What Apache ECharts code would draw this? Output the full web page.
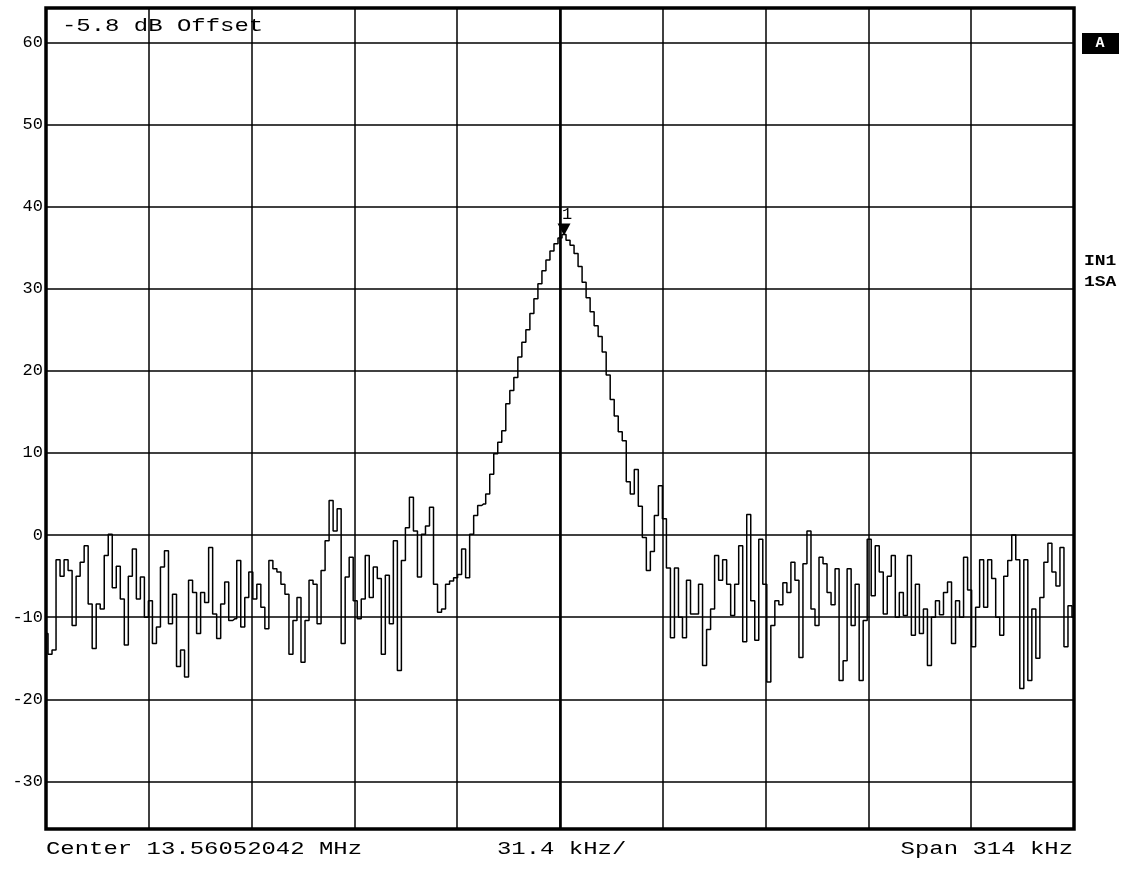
<!DOCTYPE html>
<html>
<head>
<meta charset="utf-8">
<title>Spectrum 13.56 MHz</title>
<script src="https://cdn.jsdelivr.net/npm/echarts@6/dist/echarts.min.js"></script>
<style>
html, body { margin: 0; padding: 0; background: #fff; }
#chart { width: 1127px; height: 869px; }
</style>
</head>
<body>
<div id="chart"></div>
<script>
// sweep settings (kHz relative to center)
const START_KHZ = -157;
const SPAN_KHZ = 314;
const DIV_KHZ = 31.4;
const REF_MIN = -35.8;
const REF_MAX = 64.2;

// trace, dB, evenly spaced across the span
const levels = [
  -12, -14.5, -14, -3, -5, -3, -4.3, -11, -5, -3.3, -1.3, -8.4, -13.8, -8.4, -9, -2.5,
  0.1, -6.4, -3.8, -7.8, -13.4, -5, -1.7, -7.8, -5.1, -10, -8, -13.2, -11.2, -3.9, -1.9, -10.8,
  -7.2, -16, -14, -17.3, -5.5, -7, -12, -7, -8.2, -1.5, -9.6, -12.6, -8.4, -5.7, -10.4, -10.2,
  -3.1, -11.2, -7.6, -4.5, -7.8, -6, -8.8, -11.4, -3.1, -4.1, -4.5, -6, -7.2, -14.5, -10.4, -7.6,
  -15.5, -10.4, -5.5, -6, -10.8, -4.3, -0.7, 4.2, 0.5, 3.2, -13.2, -5.1, -2.7, -8, -10.2, -7.8,
  -2.5, -7.6, -3.9, -5.3, -14.5, -4.9, -10.8, -0.7, -16.5, -3.1, 0.9, 4.6, 0.5, -5.1, 0.1, 1.1,
  3.4, -6, -9.4, -9, -6, -5.6, -5.2, -4.8, -1.7, -5.2, 0.1, 2.4, 3.6, 3.8, 5, 7.4,
  9.9, 11.3, 12.7, 16, 17.6, 19.2, 21.7, 23.5, 25, 27, 28.8, 30.6, 32.2, 33.5, 34.6, 35.5,
  36.2, 36.6, 35.9, 35.3, 34.3, 32.7, 30.8, 28.9, 27.2, 25.5, 24.2, 22.3, 19.5, 16.5, 14.5, 12.6,
  11.5, 6.5, 5, 8, 3.5, -0.3, -4.3, -2, 2.4, 6, 2, -4, -12.5, -4, -10, -12.5,
  -5.5, -9.6, -9.6, -6, -15.9, -11.5, -9, -2.5, -5.5, -3, -6, -9.8, -6, -1.3, -13, 2.5,
  -8, -12.8, -0.5, -6, -17.9, -11, -8, -8.5, -5.8, -7, -3.3, -5.5, -14.9, -3.5, 0.5, -9,
  -11, -2.7, -3.5, -7, -8.5, -4.1, -17.7, -15.3, -4.1, -11, -6, -17.7, -10.4, -0.5, -7.4, -1.3,
  -4.5, -9.6, -5, -2.5, -10, -7, -9.8, -2.5, -12.2, -6, -12, -9, -15.9, -10, -8, -9.7,
  -7, -5.7, -13.2, -8, -10, -2.7, -6.7, -13.6, -8.8, -3, -8.8, -3, -5.3, -10, -12.2, -5,
  -3.1, 0, -3, -18.7, -3, -17.7, -9, -15, -7.6, -3.3, -1, -4.5, -6.2, -1.5, -13.6, -8.6,
  -10
];

const footerLeft = 'Center 13.56052042 MHz';
const footerMid = '31.4 kHz/';
const footerRight = 'Span 314 kHz';
const offsetNote = '-5.8 dB Offset';
const sideLabels = ['IN1', '1SA'];
const markerName = '1';

const step = SPAN_KHZ / (levels.length - 1);
const trace = levels.map((v, i) => [START_KHZ + i * step, v]);
let peakIdx = 0;
levels.forEach((v, i) => { if (v > levels[peakIdx]) peakIdx = i; });

const mono = 'Liberation Mono, Courier New, monospace';
const chart = echarts.init(document.getElementById('chart'));

chart.setOption({
  animation: false,
  backgroundColor: '#fff',
  grid: {
    left: 46,
    right: 53,
    top: 8,
    bottom: 40,
    show: true,
    borderColor: '#000',
    borderWidth: 3.5
  },
  xAxis: {
    type: 'value',
    min: START_KHZ,
    max: START_KHZ + SPAN_KHZ,
    interval: DIV_KHZ,
    axisLine: { show: false },
    axisTick: { show: false },
    axisLabel: { show: false },
    splitLine: { lineStyle: { color: '#000', width: 1.5 } }
  },
  yAxis: {
    type: 'value',
    min: REF_MIN,
    max: REF_MAX,
    splitNumber: 10,
    minInterval: 10,
    maxInterval: 10,
    axisLine: { show: false },
    axisTick: { show: false },
    axisLabel: {
      color: '#000',
      fontFamily: mono,
      fontSize: 17,
      margin: 3,
      showMinLabel: false,
      showMaxLabel: false
    },
    splitLine: { lineStyle: { color: '#000', width: 1.5 } }
  },
  series: [{
    type: 'line',
    data: trace,
    step: 'middle',
    symbol: 'none',
    lineStyle: { color: '#000', width: 1.5 },
    markLine: {
      silent: true,
      symbol: 'none',
      label: { show: false },
      lineStyle: { color: '#000', width: 2.6, type: 'solid' },
      data: [{ xAxis: 0 }]
    },
    markPoint: {
      silent: true,
      symbol: 'triangle',
      symbolRotate: 180,
      symbolSize: [13, 12],
      symbolOffset: [0, -5],
      itemStyle: { color: '#000' },
      label: {
        show: true,
        position: 'top',
        distance: 1,
        offset: [3, 0],
        formatter: markerName,
        color: '#000',
        fontFamily: mono,
        fontSize: 17
      },
      data: [{ coord: trace[peakIdx] }]
    }
  }],
  graphic: [
    {
      type: 'text', x: 62, y: 26, scaleX: 1.33,
      style: { text: offsetNote, fontFamily: mono, fontSize: 18, fill: '#000', verticalAlign: 'middle' }
    },
    {
      type: 'text', x: 46, y: 849, scaleX: 1.33,
      style: { text: footerLeft, fontFamily: mono, fontSize: 18, fill: '#000', verticalAlign: 'middle' }
    },
    {
      type: 'text', x: 497, y: 849, scaleX: 1.33,
      style: { text: footerMid, fontFamily: mono, fontSize: 18, fill: '#000', verticalAlign: 'middle' }
    },
    {
      type: 'text', x: 1073, y: 849, scaleX: 1.33,
      style: { text: footerRight, fontFamily: mono, fontSize: 18, fill: '#000', align: 'right', verticalAlign: 'middle' }
    },
    {
      type: 'rect', shape: { x: 1082, y: 33, width: 37, height: 21 },
      style: { fill: '#000' }
    },
    {
      type: 'text', x: 1100, y: 43.5,
      style: { text: 'A', fontFamily: mono, fontWeight: 'bold', fontSize: 15, fill: '#fff', align: 'center', verticalAlign: 'middle' }
    },
    {
      type: 'text', x: 1084, y: 261, scaleX: 1.2,
      style: { text: sideLabels[0], fontFamily: mono, fontWeight: 'bold', fontSize: 15, fill: '#000', verticalAlign: 'middle' }
    },
    {
      type: 'text', x: 1084, y: 282, scaleX: 1.2,
      style: { text: sideLabels[1], fontFamily: mono, fontWeight: 'bold', fontSize: 15, fill: '#000', verticalAlign: 'middle' }
    }
  ]
});
</script>
</body>
</html>
